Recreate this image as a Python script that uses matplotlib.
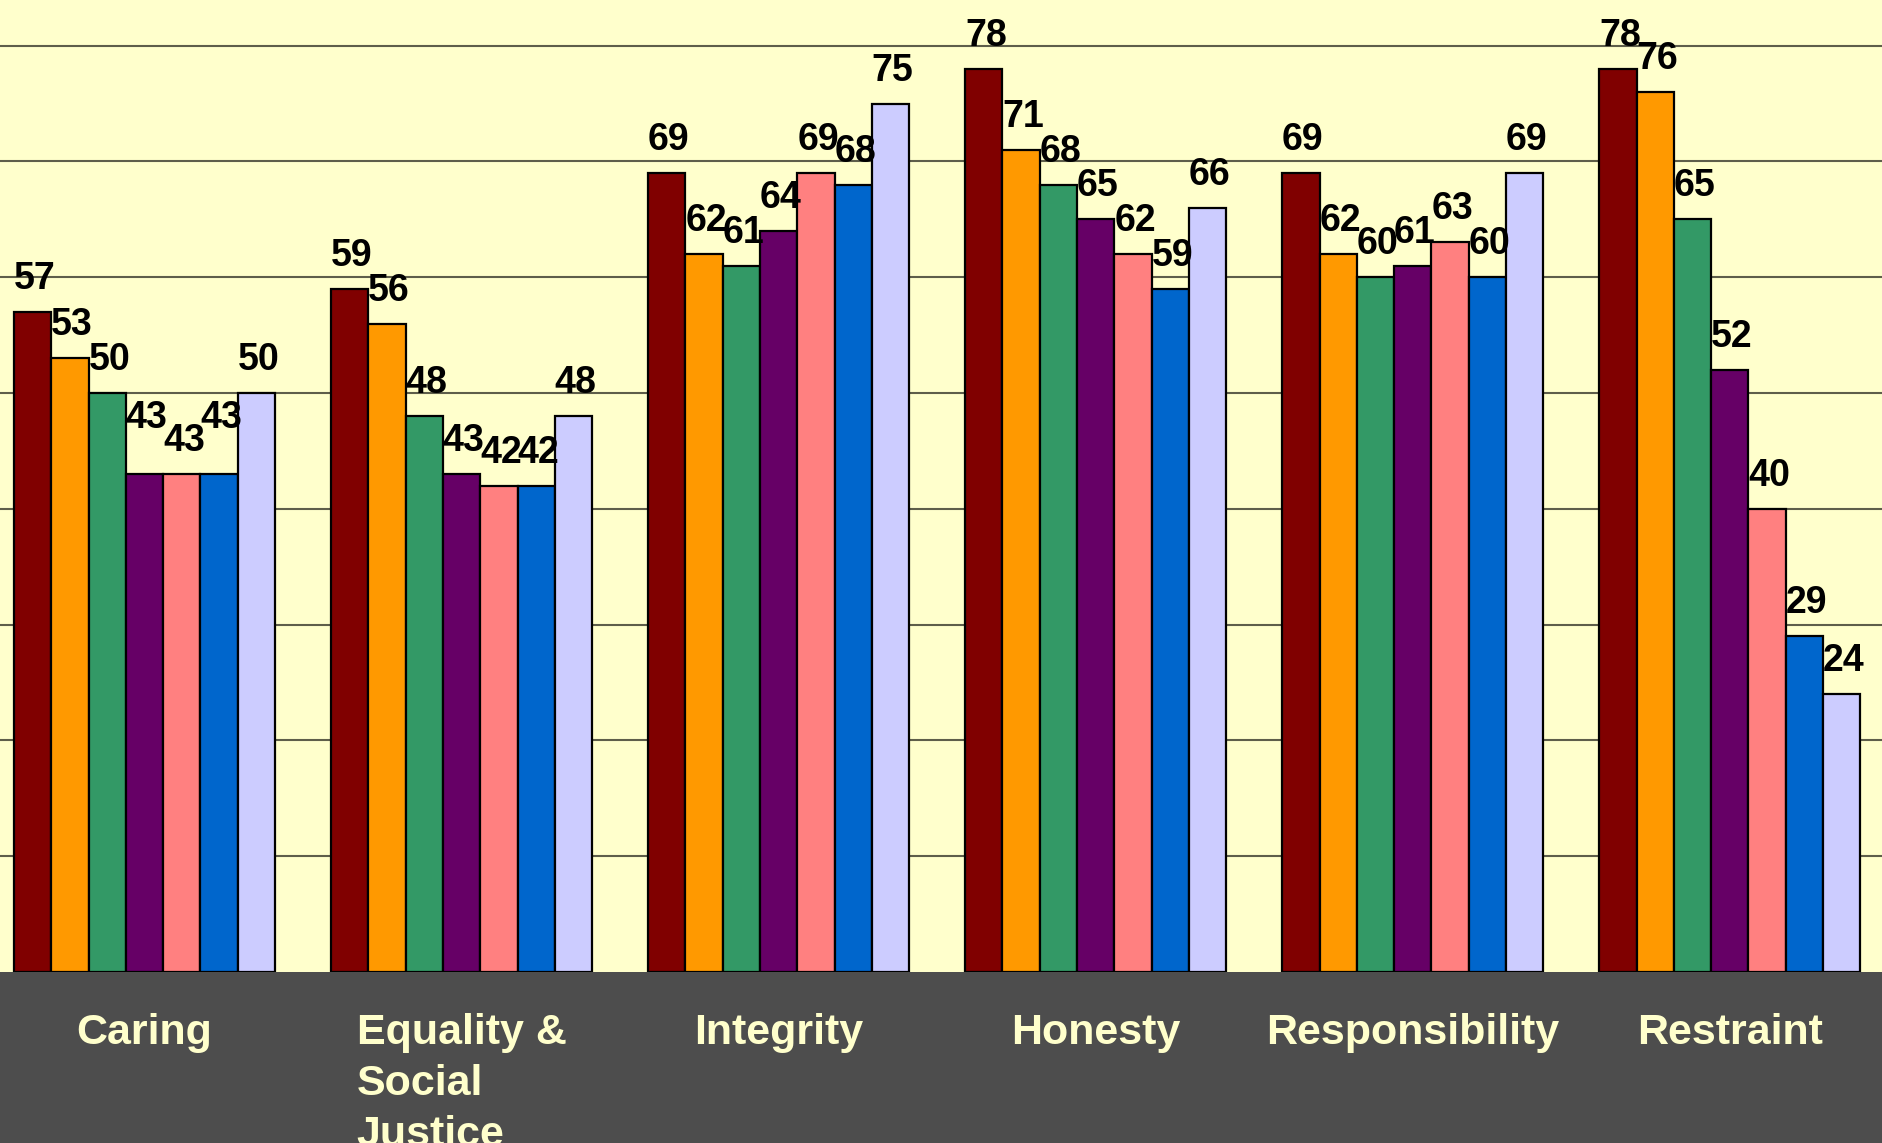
import matplotlib
matplotlib.use('Agg')
import matplotlib.pyplot as plt
import numpy as np

categories = ['Caring', 'Equality &\nSocial\nJustice', 'Integrity', 'Honesty',
              'Responsibility', 'Restraint']

# one list per bar colour, values per category
s1 = [57, 59, 69, 78, 69, 78]
s2 = [53, 56, 62, 71, 62, 76]
s3 = [50, 48, 61, 68, 60, 65]
s4 = [43, 43, 64, 65, 61, 52]
s5 = [43, 42, 69, 62, 63, 40]
s6 = [43, 42, 68, 59, 60, 29]
s7 = [50, 48, 75, 66, 69, 24]
series = [s1, s2, s3, s4, s5, s6, s7]
colors = ['#800000', '#FF9900', '#339966', '#660066', '#FF8080', '#0066CC', '#CCCCFF']

W, H = 1882, 1143
base = 972  # pixel row of the zero line
fig = plt.figure(figsize=(W / 100, H / 100), dpi=100, facecolor='#4D4D4D')
ax = fig.add_axes([0, (H - base) / H, 1, base / H])
ax.set_facecolor('#FFFFCC')

period = 8.5
centers = np.arange(len(categories)) * period
n = len(series)
for j, (vals, c) in enumerate(zip(series, colors)):
    xs = centers + (j - 3)
    ax.bar(xs, vals, width=1.0, color=c, edgecolor='black', linewidth=1.6, zorder=3)

# value labels; in a run of 3+ equal bars every other label is lifted so they don't collide
for g in range(len(categories)):
    vals = [s[g] for s in series]
    lift = [0] * n
    j = 0
    while j < n:
        k = j
        while k + 1 < n and vals[k + 1] == vals[j]:
            k += 1
        if k - j >= 2:
            for m in range(j, k + 1, 2):
                lift[m] = 23
        j = k + 1
    for j in range(n):
        x = centers[g] + (j - 3)
        ax.annotate(str(vals[j]), (x, vals[j]), xytext=(2, 23 + lift[j]),
                    textcoords='offset pixels', ha='center', va='baseline',
                    fontsize=27, fontweight='bold', family='Liberation Sans',
                    color='black', zorder=4)

ax.set_xlim(-3.875, 46.58)
ax.set_ylim(0, 83.94)
ax.set_yticks(np.arange(10, 81, 10))
ax.yaxis.grid(True, color='#5E5E4A', linewidth=1.5, zorder=1)
ax.set_xticks([])
ax.tick_params(left=False, labelleft=False)
for sp in ax.spines.values():
    sp.set_visible(False)

ytxt = -(1013 - base) / base
for x, lab in zip(centers, categories):
    ax.text(x, ytxt, lab, transform=ax.get_xaxis_transform(), ha='center', va='top',
            multialignment='left', fontsize=31, fontweight='bold', family='Liberation Sans',
            color='#FFFFCC', linespacing=1.35, clip_on=False)

fig.savefig('out.png', dpi=100, facecolor=fig.get_facecolor())
